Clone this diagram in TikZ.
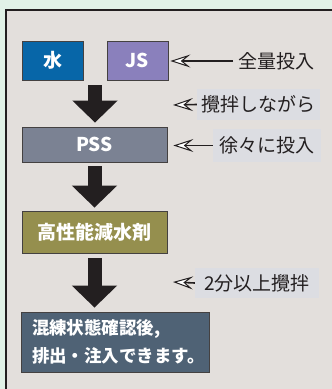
\documentclass[tikz,border=0pt]{standalone}
\usepackage{fontspec}
\newfontfamily\jp{Noto Sans CJK JP}
\usetikzlibrary{arrows.meta,calc}
\definecolor{outerbg}{HTML}{E1F2E7}
\definecolor{panelbg}{HTML}{E3DFDC}
\definecolor{labelbg}{HTML}{DCDDE2}
\definecolor{ink}{HTML}{231F20}
\definecolor{cwater}{HTML}{0766A8}
\definecolor{cjs}{HTML}{8A80BC}
\definecolor{cpss}{HTML}{7B8293}
\definecolor{chp}{HTML}{958F4E}
\definecolor{cfin}{HTML}{4F6275}
\tikzset{
  stepbox/.style={draw=ink!85, line width=0.8pt, text=white, font=\jp\bfseries\fontsize{19}{22}\selectfont, inner sep=0pt, anchor=center},
  lbl/.style={text=ink, font=\jp\fontsize{19}{22}\selectfont, inner sep=0pt},
  lblbg/.style={lbl, fill=labelbg},
  bigarrow/.style={draw=ink, line width=14pt, -{Triangle[length=22pt,width=44pt]}},
  smallarrow/.style={draw=ink, line width=1.6pt, -{Stealth[length=20pt,width=13pt,inset=8pt,fill=white,line width=1pt]}},
}
\begin{document}
\begin{tikzpicture}[x=1pt,y=-1pt]
\useasboundingbox (0,0) rectangle (332,389);
\fill[outerbg] (0,0) rectangle (332,389);
\fill[panelbg] (6,10) rectangle (332,389);
\draw[ink, line width=2pt] (6,389) -- (6,10) -- (332,10);

\node[stepbox, fill=cwater, minimum width=61pt, minimum height=39pt] (w) at (52.5,60.5) {水};
\node[stepbox, fill=cjs, minimum width=61pt, minimum height=39pt] (js) at (137.5,60.5) {JS};
\node[stepbox, fill=cpss, minimum width=145pt, minimum height=35pt] (pss) at (94.5,144.5) {PSS};
\node[stepbox, fill=chp, minimum width=145pt, minimum height=42pt] (hp) at (94.5,232) {高性能減水剤};
\node[stepbox, fill=cfin, minimum width=188pt, minimum height=60pt, text width=166pt, inner xsep=11pt, align=left,
      font=\jp\bfseries\fontsize{17.5}{28}\selectfont] (fin) at (115,342) {混練状態確認後,\\排出・注入できます。};

\node[lbl, anchor=west] (l1) at (238,61) {全量投入};
\node[lblbg, minimum width=123pt, minimum height=31pt] (l2) at (258.5,104.5) {攪拌しながら};
\node[lblbg, minimum width=108pt, minimum height=33pt] (l3) at (267,145.5) {徐々に投入};
\node[lblbg, minimum width=124pt, minimum height=30pt] (l4) at (257,283) {2分以上攪拌};

\coordinate (t2) at (173,105);
\coordinate (t4) at (173,282);
\coordinate (a1) at ($(w.south east)!.5!(js.south west)$);

\draw[bigarrow, shorten <=5pt, shorten >=4pt] (a1) -- (a1 |- pss.north);
\draw[bigarrow, shorten <=4pt, shorten >=3pt] (pss.south) -- (hp.north);
\draw[bigarrow, shorten <=5pt, shorten >=4pt] (hp.south) -- (hp.south |- fin.north);

\draw[smallarrow, shorten >=2pt] ([xshift=-5pt]l1.west) -- (l1.west -| js.east);
\draw[smallarrow] (l2.west) -- (t2);
\draw[smallarrow, shorten >=6pt] (l3.west) -- (l3.west -| pss.east);
\draw[smallarrow] (l4.west) -- (t4);
\end{tikzpicture}
\end{document}
